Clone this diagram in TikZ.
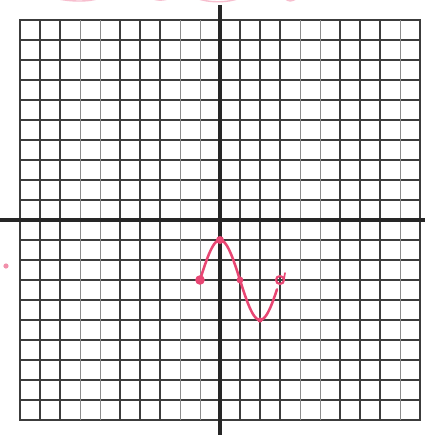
\documentclass[tikz,border=0pt]{standalone}
\usepackage{tikz}
\usetikzlibrary{calc}
\definecolor{inkpink}{RGB}{232,70,115}
\definecolor{gridink}{RGB}{60,60,60}
\definecolor{gridfaint}{RGB}{140,140,140}
\newcommand{\gridbox}{(-10,-10) rectangle (10,10)}

\begin{document}
\begin{tikzpicture}[x=0.5cm,y=0.5cm]
        \useasboundingbox (-11,-10.75) rectangle (10.25,11);
        \fill[white] (-11,-10.75) rectangle (10.25,11);
        % graph paper
        \draw[gridink,line width=0.9pt] \gridbox;
        \foreach \g in {-9,...,9} \draw[gridink,line width=0.9pt] (-10,\g) -- (10,\g);
        \foreach \g in {-9,-8,-5,-4,-3,1,2,3,6,7,8} \draw[gridink,line width=0.9pt] (\g,-10) -- (\g,10);
        \foreach \g in {-7,-6,-2,-1,4,5,9} \draw[gridfaint,line width=0.7pt] (\g,-10) -- (\g,10);
        % axes
        \draw[black!85,line width=2.8pt] (-11,0) -- (10.25,0);
        \draw[black!85,line width=2.8pt] (0,-10.75) -- (0,10.75);
        % the sketched curve
        \coordinate (left) at (-1,-3);
        \coordinate (peak) at (0,-1);
        \coordinate (mid) at (1,-3);
        \coordinate (low) at (2,-5);
        \coordinate (right) at (3,-3);
        \draw[inkpink,line width=1.8pt,line cap=round,smooth,samples=60,domain=-1:2.85]
          plot (\x,{2*cos(90*\x)-3});
        \fill[inkpink] (left) circle (0.24);
        \fill[inkpink] (peak) circle (0.2);
        \fill[inkpink] (mid) circle (0.17);
        \fill[inkpink] (low) circle (0.13);
        \draw[inkpink,line width=1.5pt] (right) circle (0.2);
        \draw[inkpink,line width=1.2pt,line cap=round] ($(right)+(0.2,0.05)$) -- ++(0.05,0.3);
        % stray ink at the edges
        \begin{scope}
          \clip (-11,-10.75) rectangle (10.25,11);
          \draw[inkpink!35,line width=1pt] (-8.3,11.1) .. controls (-7.5,10.9) and (-6.5,10.9) .. (-6,11.1);
          \draw[inkpink!35,line width=1pt] (-3.5,11.1) .. controls (-3,10.95) .. (-2.4,11.1);
          \draw[inkpink!35,line width=1pt] (-1.2,11.1) .. controls (-0.6,10.85) and (0.4,10.85) .. (1,11.1);
          \draw[inkpink!35,line width=1pt] (3.2,11.1) .. controls (3.5,10.9) .. (3.9,11.1);
          \fill[inkpink!60] (-10.7,-2.3) circle (0.13);
        \end{scope}
      \end{tikzpicture}
\end{document}
